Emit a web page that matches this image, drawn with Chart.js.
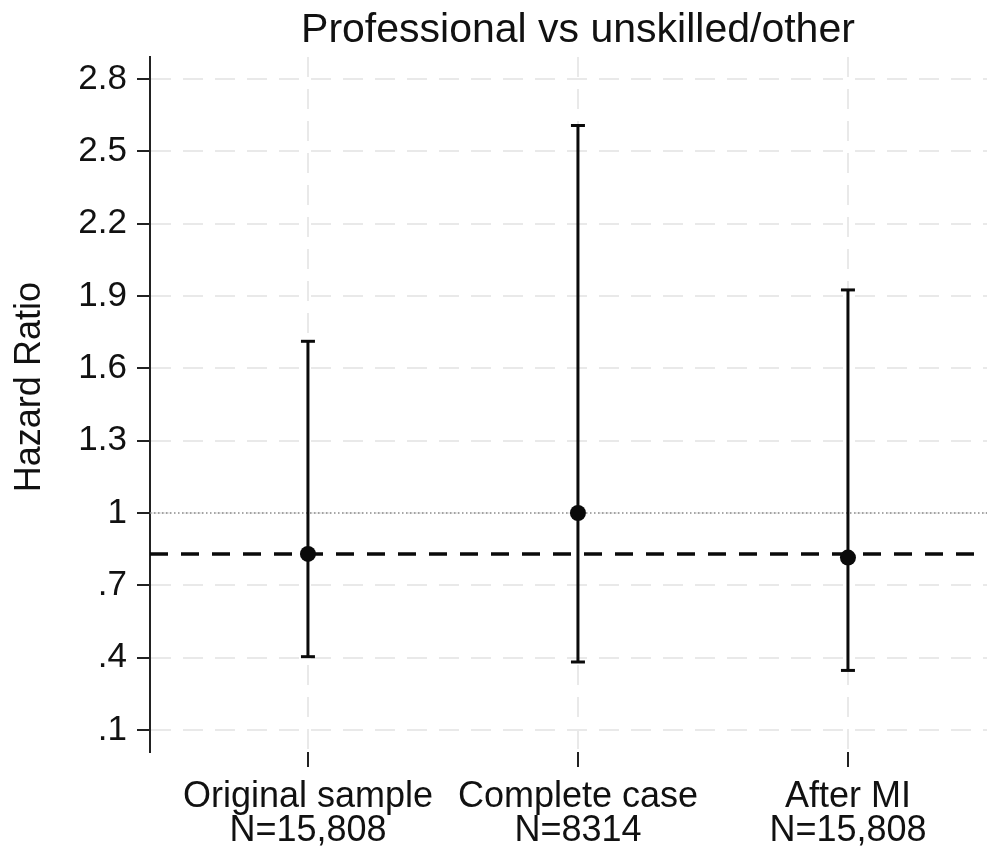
<!DOCTYPE html>
<html>
<head>
<meta charset="utf-8">
<script src="https://cdn.jsdelivr.net/npm/chart.js@4.4.1/dist/chart.umd.min.js"></script>
<style>
  html, body { margin: 0; padding: 0; background: #fff; }
  canvas { display: block; }
</style>
</head>
<body>
<canvas id="myChart" width="987" height="851"></canvas>
<script>
var chartTitle = 'Professional vs unskilled/other';
var yAxisTitle = 'Hazard Ratio';
var categories = [['Original sample', 'N=15,808'], ['Complete case', 'N=8314'], ['After MI', 'N=15,808']];
var categoryPos = [1, 2, 3];
var hazardRatio = [0.83, 1.0, 0.815];
var ciLower = [0.404, 0.382, 0.347];
var ciUpper = [1.712, 2.607, 1.925];
var refLine = 0.83;   // dashed line
var nullLine = 1;     // dotted line
var yTicks = [0.1, 0.4, 0.7, 1, 1.3, 1.6, 1.9, 2.2, 2.5, 2.8];
var yTickLabels = ['.1', '.4', '.7', '1', '1.3', '1.6', '1.9', '2.2', '2.5', '2.8'];
var xMin = 0.415, xMax = 3.515;
var yMin = 0.0087, yMax = 2.891;

var FONT = '"Liberation Sans", Arial, sans-serif';

// main title centred over the categories, y title a bit above the plot middle (as Stata does)
var titlePlugin = {
    id: 'plotTitles',
    afterDraw: function (chart) {
        var ctx = chart.ctx;
        var x = chart.scales.x;
        var area = chart.chartArea;
        var cx = (x.getPixelForValue(categoryPos[0]) + x.getPixelForValue(categoryPos[categoryPos.length - 1])) / 2;
        ctx.save();
        ctx.fillStyle = '#111';
        ctx.textAlign = 'center';
        ctx.textBaseline = 'middle';
        ctx.font = '41px ' + FONT;
        ctx.fillText(chartTitle, cx, 31);
        ctx.translate(30, area.top + (area.bottom - area.top) * 0.475);
        ctx.rotate(-Math.PI / 2);
        ctx.font = '36px ' + FONT;
        ctx.fillText(yAxisTitle, 0, 0);
        ctx.restore();
    }
};

var datasets = [];

datasets.push({
    label: 'HR',
    data: categoryPos.map(function (x, i) { return { x: x, y: hazardRatio[i] }; }),
    pointRadius: 8,
    pointBackgroundColor: '#0a0a0a',
    pointBorderColor: '#0a0a0a',
    pointBorderWidth: 0,
    showLine: false,
    order: 0
});

categoryPos.forEach(function (x, i) {
    datasets.push({
        label: 'CI ' + (i + 1),
        data: [{ x: x, y: ciLower[i] }, { x: x, y: ciUpper[i] }],
        showLine: true,
        borderColor: '#0a0a0a',
        borderWidth: 3,
        pointStyle: 'line',
        pointRadius: 7,
        pointBorderWidth: 3,
        pointBorderColor: '#0a0a0a',
        order: 1
    });
});

datasets.push({
    label: 'ref',
    data: [{ x: xMin, y: refLine }, { x: xMax, y: refLine }],
    showLine: true,
    borderColor: '#0a0a0a',
    borderWidth: 3.5,
    borderDash: [18, 13],
    pointRadius: 0,
    order: 2
});

datasets.push({
    label: 'null',
    data: [{ x: xMin, y: nullLine }, { x: xMax, y: nullLine }],
    showLine: true,
    borderColor: '#8a8a8a',
    borderWidth: 1.5,
    borderDash: [1.5, 2.5],
    pointRadius: 0,
    order: 3
});

function createChart() {
    var ctx = document.getElementById('myChart').getContext('2d');
    return new Chart(ctx, {
        type: 'scatter',
        data: { datasets: datasets },
        plugins: [titlePlugin],
        options: {
            responsive: false,
            animation: false,
            layout: { autoPadding: false, padding: { top: 57, left: 0, right: 0, bottom: 0 } },
            plugins: {
                legend: { display: false },
                tooltip: { enabled: false }
            },
            scales: {
                x: {
                    type: 'linear',
                    min: xMin,
                    max: xMax,
                    afterBuildTicks: function (scale) {
                        scale.ticks = categoryPos.map(function (v) { return { value: v }; });
                    },
                    afterFit: function (scale) { scale.height = 99; },
                    ticks: {
                        autoSkip: false,
                        maxRotation: 0,
                        padding: 13,
                        color: '#111',
                        font: { family: FONT, size: 36, lineHeight: 0.95 },
                        callback: function (value) {
                            var i = categoryPos.indexOf(value);
                            return i >= 0 ? categories[i] : '';
                        }
                    },
                    grid: {
                        color: '#e9e9e9',
                        lineWidth: 2,
                        tickColor: '#222',
                        tickWidth: 2,
                        tickLength: 15
                    },
                    border: { display: false, dash: [20, 12] }
                },
                y: {
                    min: yMin,
                    max: yMax,
                    afterBuildTicks: function (scale) {
                        scale.ticks = yTicks.map(function (v) { return { value: v }; });
                    },
                    afterFit: function (scale) { scale.width = 150; },
                    ticks: {
                        padding: 10,
                        color: '#111',
                        font: { family: FONT, size: 35 },
                        callback: function (value) {
                            var i = yTicks.indexOf(value);
                            return i >= 0 ? yTickLabels[i] : '';
                        }
                    },
                    grid: {
                        color: '#e9e9e9',
                        lineWidth: 2,
                        tickColor: '#222',
                        tickWidth: 2,
                        tickLength: 13
                    },
                    border: { display: true, color: '#222', width: 2, dash: [20, 12] }
                }
            }
        }
    });
}

createChart();
</script>
</body>
</html>
